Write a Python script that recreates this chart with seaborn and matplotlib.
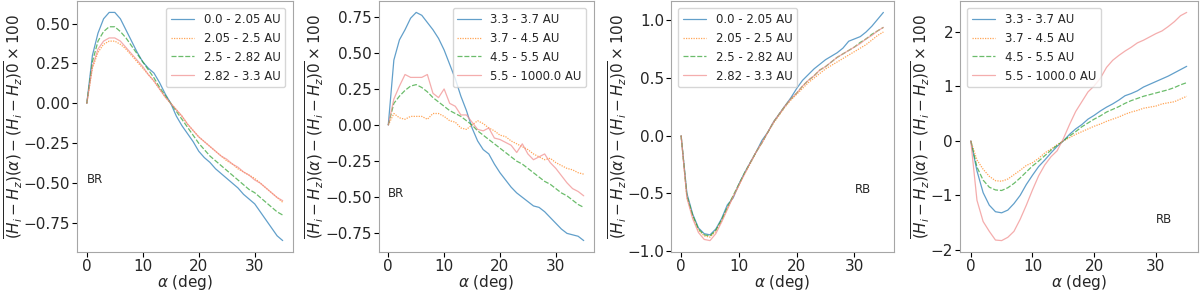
import numpy as np
import pandas as pd
import matplotlib
matplotlib.use("Agg")
import matplotlib.pyplot as plt
from matplotlib.ticker import MultipleLocator
import seaborn as sns

# phase angle grid (deg)
alpha_deg = list(range(0, 36))

inner_bands = ["0.0 - 2.05 AU", "2.05 - 2.5 AU", "2.5 - 2.82 AU", "2.82 - 3.3 AU"]
outer_bands = ["3.3 - 3.7 AU", "3.7 - 4.5 AU", "4.5 - 5.5 AU", "5.5 - 1000.0 AU"]

# BR, inner bands
br_inner_1 = [0, 0.30, 0.44, 0.53, 0.57, 0.57, 0.53, 0.46, 0.39, 0.32, 0.26, 0.22, 0.19, 0.13, 0.06, 0.00,
              -0.08, -0.14, -0.19, -0.24, -0.30, -0.34, -0.37, -0.41, -0.44, -0.47, -0.50, -0.53, -0.57,
              -0.60, -0.63, -0.68, -0.73, -0.78, -0.83, -0.86]
br_inner_2 = [0, 0.22, 0.32, 0.37, 0.39, 0.39, 0.37, 0.34, 0.30, 0.26, 0.22, 0.18, 0.14, 0.09, 0.04, 0.00,
              -0.04, -0.08, -0.13, -0.17, -0.21, -0.24, -0.27, -0.30, -0.33, -0.36, -0.38, -0.41, -0.43,
              -0.45, -0.47, -0.50, -0.53, -0.56, -0.59, -0.62]
br_inner_3 = [0, 0.26, 0.39, 0.45, 0.48, 0.48, 0.45, 0.41, 0.36, 0.31, 0.26, 0.21, 0.16, 0.10, 0.05, 0.00,
              -0.05, -0.10, -0.15, -0.20, -0.25, -0.29, -0.33, -0.36, -0.39, -0.42, -0.45, -0.48, -0.51,
              -0.54, -0.56, -0.59, -0.62, -0.65, -0.68, -0.70]
br_inner_4 = [0, 0.23, 0.34, 0.39, 0.41, 0.41, 0.39, 0.35, 0.31, 0.27, 0.23, 0.18, 0.14, 0.09, 0.04, 0.00,
              -0.04, -0.08, -0.13, -0.17, -0.21, -0.24, -0.27, -0.30, -0.33, -0.35, -0.38, -0.40, -0.43,
              -0.45, -0.48, -0.50, -0.53, -0.56, -0.59, -0.61]

# BR, outer bands
br_outer_1 = [0, 0.45, 0.59, 0.66, 0.74, 0.78, 0.76, 0.71, 0.66, 0.60, 0.52, 0.42, 0.32, 0.20, 0.10, -0.02,
              -0.11, -0.17, -0.20, -0.27, -0.33, -0.38, -0.43, -0.47, -0.50, -0.53, -0.56, -0.57, -0.60,
              -0.64, -0.68, -0.72, -0.75, -0.76, -0.77, -0.80]
br_outer_2 = [0, 0.08, 0.05, 0.04, 0.06, 0.06, 0.06, 0.04, 0.08, 0.08, 0.06, 0.03, 0.02, -0.02, -0.03, 0.00,
              0.03, 0.01, -0.02, -0.04, -0.07, -0.08, -0.11, -0.13, -0.15, -0.17, -0.20, -0.22, -0.24,
              -0.23, -0.26, -0.28, -0.30, -0.31, -0.33, -0.34]
br_outer_3 = [0, 0.15, 0.20, 0.24, 0.27, 0.28, 0.26, 0.23, 0.19, 0.16, 0.13, 0.10, 0.08, 0.06, 0.03, 0.00,
              -0.04, -0.07, -0.10, -0.13, -0.16, -0.19, -0.22, -0.25, -0.27, -0.30, -0.33, -0.36, -0.39,
              -0.41, -0.44, -0.47, -0.49, -0.52, -0.55, -0.57]
br_outer_4 = [0, 0.18, 0.27, 0.35, 0.33, 0.33, 0.33, 0.35, 0.22, 0.19, 0.25, 0.15, 0.13, 0.07, 0.07, 0.02,
              -0.03, -0.04, -0.02, -0.09, -0.10, -0.12, -0.14, -0.19, -0.13, -0.20, -0.24, -0.22, -0.20,
              -0.26, -0.30, -0.35, -0.40, -0.44, -0.46, -0.49]

# RB, inner bands
rb_inner_1 = [0, -0.50, -0.68, -0.80, -0.85, -0.86, -0.81, -0.72, -0.60, -0.54, -0.42, -0.32, -0.23, -0.14,
              -0.04, 0.03, 0.12, 0.19, 0.26, 0.33, 0.41, 0.48, 0.53, 0.58, 0.62, 0.66, 0.69, 0.72, 0.76,
              0.82, 0.84, 0.86, 0.90, 0.95, 1.01, 1.07]
rb_inner_2 = [0, -0.53, -0.70, -0.82, -0.87, -0.88, -0.83, -0.74, -0.63, -0.53, -0.43, -0.33, -0.24, -0.14,
              -0.06, 0.03, 0.11, 0.18, 0.25, 0.31, 0.36, 0.41, 0.46, 0.50, 0.54, 0.58, 0.61, 0.64, 0.67,
              0.70, 0.73, 0.76, 0.79, 0.83, 0.87, 0.90]
rb_inner_3 = [0, -0.52, -0.69, -0.81, -0.86, -0.87, -0.82, -0.73, -0.62, -0.52, -0.42, -0.32, -0.23, -0.14,
              -0.06, 0.03, 0.12, 0.19, 0.26, 0.32, 0.37, 0.43, 0.48, 0.52, 0.57, 0.60, 0.64, 0.68, 0.71,
              0.74, 0.77, 0.81, 0.84, 0.88, 0.91, 0.94]
rb_inner_4 = [0, -0.54, -0.72, -0.84, -0.90, -0.91, -0.85, -0.75, -0.64, -0.53, -0.43, -0.33, -0.23, -0.14,
              -0.06, 0.03, 0.12, 0.19, 0.26, 0.32, 0.37, 0.43, 0.48, 0.52, 0.57, 0.60, 0.64, 0.68, 0.71,
              0.74, 0.77, 0.80, 0.84, 0.87, 0.91, 0.94]

# RB, outer bands
rb_outer_1 = [0, -0.55, -0.95, -1.18, -1.30, -1.32, -1.27, -1.15, -1.00, -0.80, -0.63, -0.47, -0.35, -0.22,
              -0.10, 0.00, 0.12, 0.22, 0.30, 0.40, 0.47, 0.55, 0.62, 0.68, 0.75, 0.83, 0.87, 0.92, 0.99,
              1.04, 1.09, 1.14, 1.19, 1.25, 1.31, 1.37]
rb_outer_2 = [0, -0.35, -0.52, -0.65, -0.73, -0.74, -0.70, -0.62, -0.54, -0.45, -0.40, -0.32, -0.22, -0.15,
              -0.07, 0.00, 0.06, 0.12, 0.17, 0.22, 0.27, 0.31, 0.36, 0.40, 0.44, 0.49, 0.53, 0.56, 0.60,
              0.62, 0.64, 0.68, 0.70, 0.72, 0.77, 0.82]
rb_outer_3 = [0, -0.48, -0.72, -0.85, -0.90, -0.91, -0.86, -0.78, -0.68, -0.57, -0.46, -0.37, -0.27, -0.17,
              -0.08, 0.00, 0.09, 0.17, 0.26, 0.33, 0.40, 0.46, 0.53, 0.58, 0.63, 0.69, 0.74, 0.78, 0.82,
              0.85, 0.88, 0.91, 0.94, 0.98, 1.03, 1.07]
rb_outer_4 = [0, -1.09, -1.48, -1.66, -1.82, -1.83, -1.77, -1.66, -1.44, -1.18, -0.90, -0.64, -0.44, -0.29,
              -0.18, 0.04, 0.30, 0.54, 0.72, 0.90, 1.01, 1.15, 1.35, 1.48, 1.57, 1.65, 1.72, 1.80, 1.85,
              1.91, 1.97, 2.02, 2.10, 2.19, 2.30, 2.36]

# bands, series, tag, tag position, legend loc, y tick step
panels = [
    (inner_bands, [br_inner_1, br_inner_2, br_inner_3, br_inner_4], "BR", (0, -0.5), "upper right", 0.25),
    (outer_bands, [br_outer_1, br_outer_2, br_outer_3, br_outer_4], "BR", (0, -0.5), "upper right", 0.25),
    (inner_bands, [rb_inner_1, rb_inner_2, rb_inner_3, rb_inner_4], "RB", (30, -0.5), "upper left", 0.5),
    (outer_bands, [rb_outer_1, rb_outer_2, rb_outer_3, rb_outer_4], "RB", (30, -1.5), "upper left", 1),
]

sns.set_style("white", {"axes.edgecolor": "0.65", "xtick.bottom": True, "ytick.left": True})
plt.rcParams["font.family"] = ["DejaVu Sans"]

colors = ["#1f77b4", "#ff7f0e", "#2ca02c", "#f08a8a"]
dash_styles = ["", (1, 1), (4, 1.5), ""]

# axes boxes in pixels (left, right) of a 1200x293 canvas
boxes = [(77, 292.5), (378.5, 593.5), (671, 893.5), (960, 1197.5)]

fig = plt.figure(figsize=(12, 2.93), dpi=100)
ylab = r"$\overline{(H_i - H_z)(\alpha) - (H_i - H_z)0} \times 100$"

for (bands, series, tag, tag_xy, loc, ystep), (x0, x1) in zip(panels, boxes):
    ax = fig.add_axes([x0 / 1200, 41 / 293, (x1 - x0) / 1200, 251 / 293])
    frames = []
    for band, vals in zip(bands, series):
        frames.append(pd.DataFrame({"alpha": alpha_deg, "value": vals, "band": band}))
    df = pd.concat(frames, ignore_index=True)
    sns.lineplot(data=df, x="alpha", y="value", hue="band", style="band",
                 palette=dict(zip(bands, colors)), dashes=dict(zip(bands, dash_styles)),
                 linewidth=0.9, alpha=0.7, ax=ax)
    ax.legend(loc=loc, fontsize=8.5, framealpha=0.8, borderaxespad=0.6)
    ax.text(tag_xy[0], tag_xy[1], tag, fontsize=8.5)
    ax.set_xlabel(r"$\alpha$ (deg)", fontsize=11, labelpad=-1)
    ax.set_ylabel(ylab, fontsize=11, labelpad=-1)
    ax.tick_params(labelsize=11, length=3.5, width=0.8, color="black", pad=1.5)
    ax.set_xticks([0, 10, 20, 30])
    ax.yaxis.set_major_locator(MultipleLocator(ystep))

fig.savefig("out.png", dpi=100)
